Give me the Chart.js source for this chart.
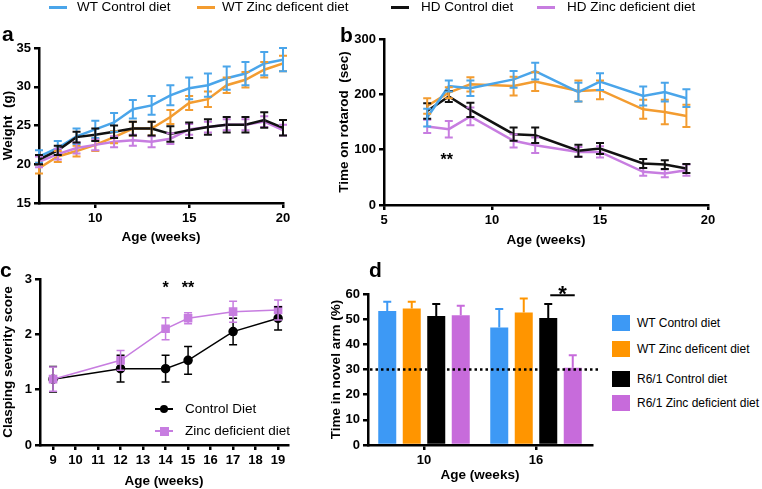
<!DOCTYPE html>
<html>
<head>
<meta charset="utf-8">
<script src="https://cdn.jsdelivr.net/npm/chart.js@4.4.1/dist/chart.umd.min.js"></script>
<style>
  body { margin: 0; width: 762px; height: 489px; position: relative; overflow: hidden; background: #fff;
         font-family: 'Liberation Sans', Arial, sans-serif; color: #000; }
  canvas { position: absolute; }
  .panel { position: absolute; font-weight: bold; font-size: 21px; line-height: 21px; }
  .leg { position: absolute; white-space: nowrap; line-height: 16px; }
  .sw { position: absolute; }
</style>
</head>
<body>
<canvas id="chartA" width="300" height="225" style="left:0;top:20px"></canvas>
<canvas id="chartB" width="400" height="228" style="left:336px;top:20px"></canvas>
<canvas id="chartC" width="310" height="224" style="left:0;top:265px"></canvas>
<canvas id="chartD" width="280" height="218" style="left:328px;top:265px"></canvas>

<script>
// ---- data ----
const groupNames = ["WT Control diet", "WT Zinc deficent diet", "HD Control diet", "HD Zinc deficient diet"];

// a: body weight
const weeksA = [7, 8, 9, 10, 11, 12, 13, 14, 15, 16, 17, 18, 19, 20];
const weightWtCtrl = [21.0, 22.1, 23.6, 24.5, 25.4, 27.1, 27.6, 28.9, 29.8, 30.2, 31.1, 31.7, 33.0, 33.5];
const weightWtCtrlSem = [0.8, 0.9, 1.0, 1.1, 1.2, 1.2, 1.2, 1.3, 1.4, 1.5, 1.5, 1.5, 1.5, 1.5];
const weightWtZinc = [19.5, 21.0, 21.7, 22.5, 23.5, 24.6, 24.6, 26.1, 27.9, 28.4, 30.2, 30.9, 32.2, 33.0];
const weightWtZincSem = [0.7, 0.7, 0.7, 0.8, 0.8, 0.9, 0.9, 0.9, 0.9, 1.0, 1.0, 1.0, 1.0, 1.0];
const weightHdCtrl = [20.6, 21.8, 23.5, 23.8, 24.2, 24.6, 24.6, 23.9, 24.4, 24.8, 25.1, 25.1, 25.7, 24.7];
const weightHdCtrlSem = [0.6, 0.6, 0.7, 0.8, 0.8, 0.9, 0.9, 1.0, 1.0, 1.0, 1.0, 1.0, 1.0, 1.0];
const weightHdZinc = [20.3, 21.3, 22.1, 22.5, 22.9, 23.1, 22.9, 23.3, 24.5, 24.8, 25.1, 25.1, 25.5, 24.4];
const weightHdZincSem = [0.7, 0.7, 0.7, 0.7, 0.7, 0.7, 0.7, 0.7, 0.7, 0.7, 0.7, 0.7, 0.7, 0.7];
const ticksAx = [10, 15, 20];
const ticksAy = [15, 20, 25, 30, 35];

// b: rotarod
const weeksB = [7, 8, 9, 11, 12, 14, 15, 17, 18, 19];
const rotWtCtrl = [158, 215, 211, 227, 242, 204, 223, 197, 204, 193];
const rotWtCtrlSem = [16, 10, 14, 15, 15, 17, 15, 17, 17, 16];
const rotWtZinc = [179, 203, 218, 215, 223, 206, 208, 173, 168, 161];
const rotWtZincSem = [14, 10, 13, 17, 17, 19, 17, 17, 22, 20];
const rotHdCtrl = [170, 196, 172, 128, 126, 98, 102, 75, 73, 66];
const rotHdCtrlSem = [14, 10, 13, 12, 14, 11, 10, 8, 8, 8];
const rotHdZinc = [142, 137, 160, 116, 108, 96, 96, 60, 57, 63];
const rotHdZincSem = [12, 15, 16, 12, 14, 9, 10, 7, 7, 10];
const ticksBx = [5, 10, 15, 20];
const ticksBy = [0, 100, 200, 300];

// c: clasping
const claspNames = ["Control Diet", "Zinc deficient diet"];
const weeksC = [9, 12, 14, 15, 17, 19];
const claspCtrl = [1.19, 1.38, 1.38, 1.53, 2.05, 2.29];
const claspCtrlSem = [0.23, 0.24, 0.24, 0.25, 0.24, 0.21];
const claspZinc = [1.19, 1.53, 2.10, 2.29, 2.41, 2.44];
const claspZincSem = [0.22, 0.18, 0.20, 0.10, 0.19, 0.18];
const ticksCx = [9, 10, 11, 12, 13, 14, 15, 16, 17, 18, 19];
const ticksCy = [0, 1, 2, 3];

// d: Y-maze novel arm
const novelNames = ["WT Control diet", "WT Zinc deficent diet", "R6/1 Control diet", "R6/1 Zinc deficient diet"];
const ageD = ["10", "16"];
const novelWtCtrl = [53.2, 46.7];
const novelWtCtrlSem = [3.7, 7.3];
const novelWtZinc = [54.2, 52.6];
const novelWtZincSem = [2.7, 5.6];
const novelR6Ctrl = [51.3, 50.5];
const novelR6CtrlSem = [4.7, 5.5];
const novelR6Zinc = [51.6, 30.7];
const novelR6ZincSem = [3.7, 5.0];
const ticksDy = [0, 10, 20, 30, 40, 50, 60];
const chanceLevel = 30;

// ---- styles ----
const lineCols = ["#4aa5ea", "#f39c30", "#111111", "#c77de0"];
const barCols = ["#3d99f5", "#ff9500", "#000000", "#c76bdb"];
const FONT = "'Liberation Sans', Arial, sans-serif";

Chart.defaults.font.family = FONT;
Chart.defaults.color = "#000";
Chart.defaults.animation = false;
Chart.defaults.plugins.legend.display = false;
Chart.defaults.plugins.tooltip.enabled = false;

// error bars drawn through the y scale
const errorBars = {
  id: "errorBars",
  afterDatasetsDraw(chart, args, opts) {
    const ctx = chart.ctx;
    const ys = chart.scales.y;
    const metas = chart.getSortedVisibleDatasetMetas().slice().reverse();
    metas.forEach(meta => {
      const ds = chart.data.datasets[meta.index];
      if (!ds.sem) return;
      ctx.save();
      ctx.strokeStyle = ds.errColor || ds.borderColor;
      ctx.lineWidth = opts.lineWidth || 2;
      meta.data.forEach((el, i) => {
        const d = ds.data[i];
        const v = typeof d === "object" ? d.y : d;
        const s = ds.sem[i];
        const top = ys.getPixelForValue(v + s);
        const bot = opts.upOnly ? el.y : ys.getPixelForValue(v - s);
        const w = (opts.cap || 8) / 2;
        ctx.beginPath();
        ctx.moveTo(el.x, top); ctx.lineTo(el.x, bot);
        ctx.moveTo(el.x - w, top); ctx.lineTo(el.x + w, top);
        if (!opts.upOnly) { ctx.moveTo(el.x - w, bot); ctx.lineTo(el.x + w, bot); }
        ctx.stroke();
      });
      ctx.restore();
    });
  }
};

// significance stars placed in data coordinates
const notes = {
  id: "notes",
  afterDraw(chart, args, opts) {
    const { ctx, scales: { x, y } } = chart;
    (opts.items || []).forEach(n => {
      ctx.save();
      ctx.font = "bold " + n.size + "px " + FONT;
      ctx.fillStyle = "#000";
      ctx.textAlign = "center";
      ctx.textBaseline = "alphabetic";
      ctx.fillText(n.text, x.getPixelForValue(n.x), y.getPixelForValue(n.y) + n.size * 0.56);
      ctx.restore();
    });
  }
};

function xAxis(title, min, max, ticks, h) {
  return {
    type: "linear", min: min, max: max,
    afterBuildTicks: s => { s.ticks = ticks.map(v => ({ value: v })); },
    afterFit: s => { s.height = h; },
    border: { color: "#000", width: 2.5 },
    grid: { drawOnChartArea: false, color: "#000", lineWidth: 2.5, tickLength: 5 },
    ticks: { font: { size: 13, weight: "bold" }, color: "#000", padding: 3, maxRotation: 0, autoSkip: false },
    title: { display: true, text: title, font: { size: 13.5, weight: "bold" }, color: "#000", padding: 0 }
  };
}
function yAxis(title, min, max, ticks, w) {
  return {
    min: min, max: max,
    afterBuildTicks: s => { s.ticks = ticks.map(v => ({ value: v })); },
    afterFit: s => { s.width = w; },
    border: { color: "#000", width: 2.5 },
    grid: { drawOnChartArea: false, color: "#000", lineWidth: 2.5, tickLength: 5 },
    ticks: { font: { size: 13, weight: "bold" }, color: "#000", padding: 3 },
    title: { display: true, text: title, font: { size: 13.5, weight: "bold" }, color: "#000", padding: 0 }
  };
}
function lineSet(label, xs, ys, sem, col, order) {
  return {
    label: label, data: xs.map((x, i) => ({ x: x, y: ys[i] })), sem: sem,
    borderColor: col, backgroundColor: col, borderWidth: 2.5, pointRadius: 0, tension: 0, order: order
  };
}

// ---- a ----
new Chart(document.getElementById("chartA"), {
  type: "line",
  data: { datasets: [
    lineSet(groupNames[0], weeksA, weightWtCtrl, weightWtCtrlSem, lineCols[0], 2),
    lineSet(groupNames[1], weeksA, weightWtZinc, weightWtZincSem, lineCols[1], 3),
    lineSet(groupNames[2], weeksA, weightHdCtrl, weightHdCtrlSem, lineCols[2], 0),
    lineSet(groupNames[3], weeksA, weightHdZinc, weightHdZincSem, lineCols[3], 1)
  ] },
  options: {
    responsive: false,
    layout: { padding: { left: 0, right: 17, top: 28, bottom: 0 } },
    scales: {
      x: xAxis("Age (weeks)", 7, 20, ticksAx, 42),
      y: yAxis("Weight  (g)", 15, 35, ticksAy, 39)
    },
    plugins: { errorBars: { lineWidth: 2, cap: 8 } }
  },
  plugins: [errorBars]
});

// ---- b ----
new Chart(document.getElementById("chartB"), {
  type: "line",
  data: { datasets: [
    lineSet(groupNames[0], weeksB, rotWtCtrl, rotWtCtrlSem, lineCols[0], 0),
    lineSet(groupNames[1], weeksB, rotWtZinc, rotWtZincSem, lineCols[1], 1),
    lineSet(groupNames[2], weeksB, rotHdCtrl, rotHdCtrlSem, lineCols[2], 2),
    lineSet(groupNames[3], weeksB, rotHdZinc, rotHdZincSem, lineCols[3], 3)
  ] },
  options: {
    responsive: false,
    layout: { padding: { left: 0, right: 28, top: 19, bottom: 0 } },
    scales: {
      x: xAxis("Age (weeks)", 5, 20, ticksBx, 43),
      y: yAxis("Time on rotarod  (sec)", 0, 300, ticksBy, 48)
    },
    plugins: {
      errorBars: { lineWidth: 2, cap: 8 },
      notes: { items: [{ text: "**", x: 7.9, y: 89, size: 16 }] }
    }
  },
  plugins: [errorBars, notes]
});

// ---- c ----
new Chart(document.getElementById("chartC"), {
  type: "line",
  data: { datasets: [
    {
      label: claspNames[0], data: weeksC.map((x, i) => ({ x: x, y: claspCtrl[i] })), sem: claspCtrlSem,
      borderColor: "#000", backgroundColor: "#000", borderWidth: 1.5, pointStyle: "circle", pointRadius: 4,
      tension: 0, order: 1
    },
    {
      label: claspNames[1], data: weeksC.map((x, i) => ({ x: x, y: claspZinc[i] })), sem: claspZincSem,
      borderColor: lineCols[3], backgroundColor: lineCols[3], borderWidth: 1.5, pointStyle: "rect", pointRadius: 5,
      tension: 0, order: 0
    }
  ] },
  options: {
    responsive: false,
    layout: { padding: { left: 0, right: 22, top: 14, bottom: 0 } },
    scales: {
      x: xAxis("Age (weeks)", 8.42, 19.44, ticksCx, 44),
      y: yAxis("Clasping severity score", 0, 3, ticksCy, 40)
    },
    plugins: {
      errorBars: { lineWidth: 1.5, cap: 8 },
      notes: { items: [{ text: "*", x: 14, y: 2.91, size: 16 }, { text: "**", x: 15, y: 2.91, size: 16 }] }
    }
  },
  plugins: [errorBars, notes]
});

// ---- d ----
const chanceLine = {
  id: "chanceLine",
  afterDatasetsDraw(chart) {
    const { ctx, chartArea, scales: { y } } = chart;
    const py = y.getPixelForValue(chanceLevel);
    ctx.save();
    ctx.strokeStyle = "#000";
    ctx.lineWidth = 2.5;
    ctx.setLineDash([2.5, 3]);
    ctx.beginPath();
    ctx.moveTo(chartArea.left + 2, py);
    ctx.lineTo(chartArea.right + 6, py);
    ctx.stroke();
    ctx.restore();
  }
};
const sigBar = {
  id: "sigBar",
  afterDraw(chart) {
    const { ctx, scales: { y } } = chart;
    const a = chart.getDatasetMeta(2).data[1];
    const b = chart.getDatasetMeta(3).data[1];
    const py = y.getPixelForValue(59.5);
    ctx.save();
    ctx.strokeStyle = "#000";
    ctx.lineWidth = 2;
    ctx.beginPath();
    ctx.moveTo(a.x + 2, py); ctx.lineTo(b.x + 2, py);
    ctx.stroke();
    ctx.font = "bold 22px " + FONT;
    ctx.fillStyle = "#000";
    ctx.textAlign = "center";
    ctx.fillText("*", (a.x + b.x) / 2 + 2, y.getPixelForValue(62.3) + 22 * 0.56);
    ctx.restore();
  }
};
function barSet(label, vals, sem, col) {
  return { label: label, data: vals, sem: sem, backgroundColor: col, errColor: col, borderWidth: 0,
           barPercentage: 0.735, categoryPercentage: 0.875 };
}
new Chart(document.getElementById("chartD"), {
  type: "bar",
  data: { labels: ageD, datasets: [
    barSet(novelNames[0], novelWtCtrl, novelWtCtrlSem, barCols[0]),
    barSet(novelNames[1], novelWtZinc, novelWtZincSem, barCols[1]),
    barSet(novelNames[2], novelR6Ctrl, novelR6CtrlSem, barCols[2]),
    barSet(novelNames[3], novelR6Zinc, novelR6ZincSem, barCols[3])
  ] },
  options: {
    responsive: false,
    layout: { padding: { left: 0, right: 16, top: 29, bottom: 0 } },
    scales: {
      x: {
        type: "category", offset: true,
        afterFit: s => { s.height = 38; },
        border: { color: "#000", width: 2.5 },
        grid: { drawOnChartArea: false, offset: false, color: "#000", lineWidth: 2.5, tickLength: 5 },
        ticks: { font: { size: 13, weight: "bold" }, color: "#000", padding: 3 },
        title: { display: true, text: "Age (weeks)", font: { size: 13.5, weight: "bold" }, color: "#000", padding: 0 }
      },
      y: yAxis("Time in novel arm (%)", 0, 60, ticksDy, 40)
    },
    plugins: { errorBars: { lineWidth: 2, cap: 8, upOnly: true } }
  },
  plugins: [errorBars, chanceLine, sigBar]
});

// ---- legends & panel letters (HTML text) ----
function addDiv(cls, html, left, top, extra) {
  const d = document.createElement("div");
  d.className = cls;
  d.innerHTML = html;
  d.style.left = left + "px";
  d.style.top = top + "px";
  if (extra) Object.assign(d.style, extra);
  document.body.appendChild(d);
  return d;
}
[["a", 2, 23], ["b", 340, 24], ["c", 0, 259], ["d", 369, 259]].forEach(p => addDiv("panel", p[0], p[1], p[2]));

// top legend
const topLegX = [[49, 77], [197, 222], [391, 421], [537, 567]];
groupNames.forEach((n, i) => {
  addDiv("sw", "", topLegX[i][0], 6, { width: "18px", height: "3px", background: lineCols[i] });
  addDiv("leg", n, topLegX[i][1], -1, { fontSize: "13.5px" });
});

// legend c
const legCY = [409, 431];
const legCMarks = [
  { col: "#000", r: "50%", size: 8 },
  { col: lineCols[3], r: "0", size: 9 }
];
claspNames.forEach((n, i) => {
  addDiv("sw", "", 155, legCY[i] - 0.75, { width: "18px", height: "1.5px", background: legCMarks[i].col });
  const s = legCMarks[i].size;
  addDiv("sw", "", 164 - s / 2, legCY[i] - s / 2, { width: s + "px", height: s + "px", background: legCMarks[i].col, borderRadius: legCMarks[i].r });
  addDiv("leg", n, 185, legCY[i] - 8, { fontSize: "13.5px" });
});

// legend d
const legDY = [323, 349, 379, 403];
novelNames.forEach((n, i) => {
  addDiv("sw", "", 612, legDY[i] - 8, { width: "18px", height: "16px", background: barCols[i] });
  addDiv("leg", n, 637, legDY[i] - 8, { fontSize: "12px" });
});
</script>
</body>
</html>
